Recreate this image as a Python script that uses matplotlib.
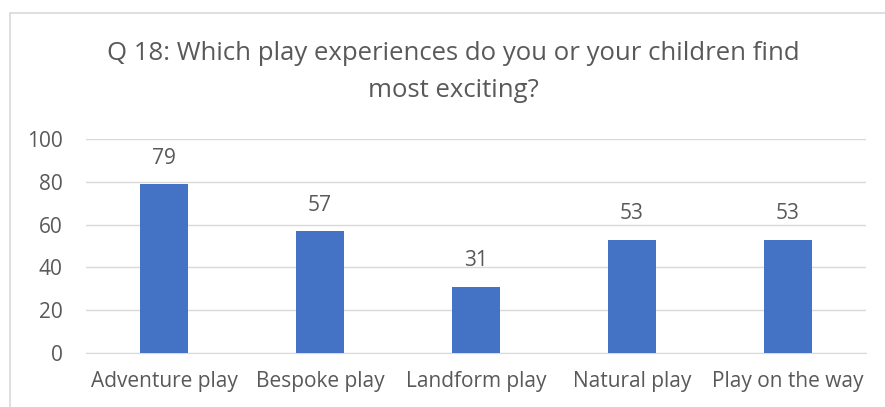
import matplotlib.pyplot as plt
from matplotlib.patches import Rectangle

# Chart data
categories = ['Adventure play', 'Bespoke play', 'Landform play', 'Natural play', 'Play on the way']
counts = [79, 57, 31, 53, 53]
title = 'Q 18: Which play experiences do you or your children find\nmost exciting?'

bar_color = '#4472C4'
text_color = '#595959'
grid_color = '#D9D9D9'

plt.rcParams['font.family'] = ['Open Sans', 'DejaVu Sans']

fig = plt.figure(figsize=(8.85, 4.07), dpi=100)
fig.patch.set_facecolor('white')

# outer chart border (cut off at right and bottom, like the screenshot)
fig.add_artist(Rectangle((10 / 885, -0.05), 1.0, 1 - 13 / 407 + 0.05,
                         transform=fig.transFigure, fill=False,
                         edgecolor='#D9D9D9', linewidth=1.2))

ax = fig.add_axes([86 / 885, 1 - 353 / 407, 780 / 885, 214 / 407])
x = range(len(categories))
bars = ax.bar(x, counts, width=0.31, color=bar_color, zorder=3)

for i, v in enumerate(counts):
    ax.annotate(str(v), (i, v), xytext=(0, 11), textcoords='offset points',
                ha='center', va='bottom', fontsize=15, color=text_color)

ax.set_xlim(-0.5, len(categories) - 0.5)
ax.set_ylim(0, 100)
ax.set_yticks(range(0, 101, 20))
ax.set_xticks(list(x))
ax.set_xticklabels(categories)
ax.tick_params(axis='both', length=0, labelsize=15, colors=text_color)
ax.tick_params(axis='x', pad=13)
ax.tick_params(axis='y', pad=17)
ax.grid(axis='y', color=grid_color, linewidth=1, zorder=0)
for s in ['top', 'right', 'left']:
    ax.spines[s].set_visible(False)
ax.spines['bottom'].set_color(grid_color)

fig.text(453 / 885, 1 - 72 / 407, title, ha='center', va='center',
         fontsize=18.5, color=text_color, linespacing=1.6)

plt.savefig('out.png', dpi=100)
